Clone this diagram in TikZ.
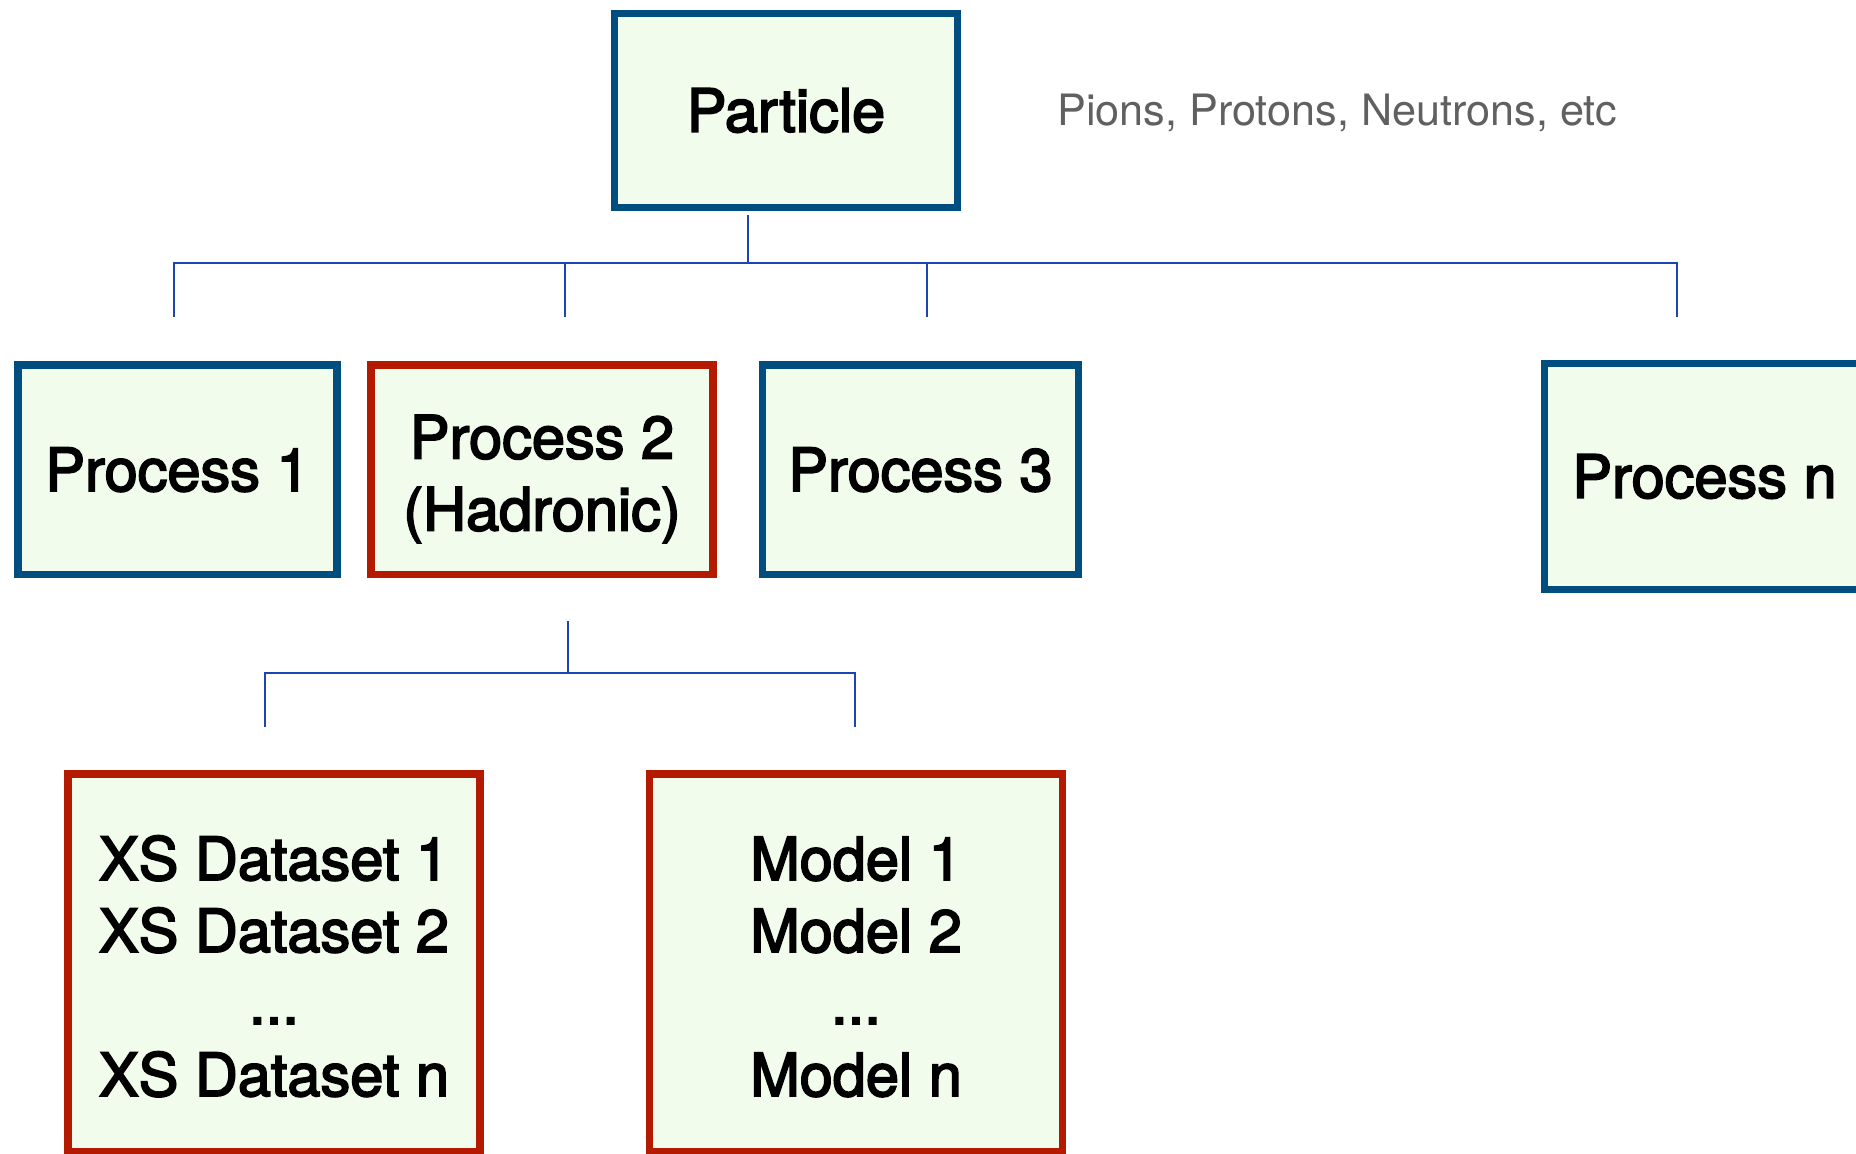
\documentclass[tikz,border=0pt]{standalone}
\usepackage{fontspec}
\setmainfont{TeX Gyre Heros}
\newfontfamily\boxfont{TeX Gyre Heros}[FakeBold=3]
\usetikzlibrary{calc}

\definecolor{boxblue}{RGB}{0,78,128}
\definecolor{boxred}{RGB}{180,26,0}
\definecolor{boxfill}{RGB}{241,252,236}
\definecolor{wireblue}{RGB}{28,68,178}
\definecolor{notegray}{RGB}{96,96,96}

% raises the top of a first text line, pushing the block down
\newcommand{\toppad}[1]{\rule{0pt}{#1}}

\begin{document}
\begin{tikzpicture}[x=1pt,y=-1pt,
  box/.style={draw, line width=7.5pt, fill=boxfill, inner sep=0pt,
    align=center, font=\boxfont\fontsize{59.5}{72}\selectfont},
  bluebox/.style={box, draw=boxblue},
  redbox/.style={box, draw=boxred},
  wire/.style={draw=wireblue, line width=2.7pt},
  note/.style={text=notegray, font=\fontsize{43.2}{50}\selectfont, inner sep=0pt}]

\useasboundingbox (0,0) rectangle (1856,1154);

% top level
\node[bluebox, minimum width=343pt, minimum height=194pt] (particle) at (786,110.5) {Particle};
\node[note, anchor=base west] (kinds) at (1057,125) {Pions, Protons, Neutrons, etc};

% processes
\node[bluebox, minimum width=319pt, minimum height=209.5pt] (p1) at (177.5,469.75) {Process 1};
\node[redbox,  minimum width=342pt, minimum height=209.5pt] (p2) at (542,469.75)
  {\toppad{62pt}Process 2\\(Hadronic)};
\node[bluebox, minimum width=316pt, minimum height=209.5pt] (p3) at (920.5,469.75) {Process 3};
\node[bluebox, minimum width=320pt, minimum height=226pt]   (pn) at (1704.5,476.5) {Process n};

% datasets and models of the hadronic process
\node[redbox, minimum width=412pt, minimum height=378pt] (xs) at (274,963)
  {\toppad{51pt}XS Dataset 1\\XS Dataset 2\\...\\XS Dataset n};
\node[redbox, minimum width=413pt, minimum height=378pt] (models) at (856,963)
  {\toppad{51pt}Model 1\\Model 2\\...\\Model n};

% tree from the particle to the processes
\coordinate (stem) at ($(particle.south)+(-38,3.75)$);
\coordinate (bus) at (748,263);
\coordinate (d1) at (174,317);
\coordinate (d2) at (565,317);
\coordinate (d3) at (927,317);
\coordinate (dn) at (1677,317);
\draw[wire] (stem) -- (bus);
\draw[wire] (d1) -- (d1 |- bus) -- (dn |- bus) -- (dn);
\draw[wire] (d2) -- (d2 |- bus);
\draw[wire] (d3) -- (d3 |- bus);

% tree from the hadronic process to datasets and models
\coordinate (stem2) at (568,621);
\coordinate (bus2) at (568,673);
\coordinate (e1) at (265,727);
\coordinate (e2) at (855,727);
\draw[wire] (stem2) -- (bus2);
\draw[wire] (e1) -- (e1 |- bus2) -- (e2 |- bus2) -- (e2);
\end{tikzpicture}
\end{document}
